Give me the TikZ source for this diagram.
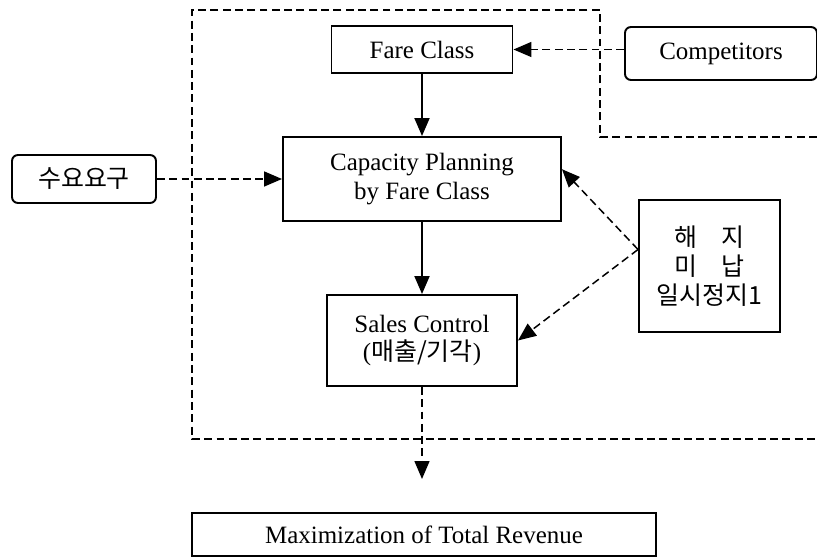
\documentclass[tikz,border=0pt]{standalone}
\usepackage{fontspec}
\setmainfont{Liberation Serif}
\newfontfamily\kr{Noto Sans CJK KR}
\usetikzlibrary{arrows.meta, positioning, calc}

\begin{document}
\begin{tikzpicture}[
    block/.style={
        rectangle, draw, line width=1.1pt, fill=white, align=center,
        inner sep=2pt, font=\fontsize{14.2}{16.5}\selectfont
    },
    source/.style={block, rounded corners=3.4pt},
    flow/.style={-{Triangle[length=3.6mm, width=3mm]}, line width=1.1pt},
    link/.style={flow, line width=0.85pt, dash pattern=on 4.5pt off 2.5pt},
    boundary/.style={line width=0.85pt, dash pattern=on 4.5pt off 2.5pt}
]
\useasboundingbox (0,0) rectangle (16.34,-11.18);

% Boundary of the planning area
\draw[boundary] (16.34,-2.74) -- (12.0,-2.74) -- (12.0,-0.2) -- (3.84,-0.2) -- (3.84,-8.78) -- (16.34,-8.78);

% Planning steps
\node[block, minimum width=3.62cm, minimum height=0.94cm] (fare) at (8.44,-0.99) {Fare Class};
\node[block, minimum width=5.56cm, minimum height=1.68cm] (capacity) at (8.44,-3.58) {Capacity Planning\\by Fare Class};
\node[block, minimum width=3.8cm, minimum height=1.82cm] (sales) at (8.44,-6.81) {Sales Control\\({\kr 매출/기각})};

% Outside influences
\node[source, minimum width=3.84cm, minimum height=1.06cm] (competitors) at (14.42,-1.07) {Competitors};
\node[source, minimum width=2.88cm, minimum height=0.96cm] (demand) at (1.68,-3.58) {\kr 수요요구};
\node[block, minimum width=2.82cm, minimum height=2.64cm] (status) at (14.19,-5.32) {\kr 해\quad 지\\\kr 미\quad 납\\\kr 일시정지1};

% Goal
\node[block, minimum width=9.28cm, minimum height=0.86cm] (revenue) at (8.48,-10.69) {Maximization of Total Revenue};
\coordinate (salesout) at (8.44,-9.58);

% Arrows
\draw[flow] (fare) -- (capacity);
\draw[flow] (capacity) -- (sales);
\draw[link] (competitors.west |- fare) -- (fare);
\draw[link] (demand) -- (capacity);
\draw[link] (status.167) -- (capacity.4);
\draw[link] (status.167) -- (sales.east);
\draw[link] (sales) -- (salesout);

\end{tikzpicture}
\end{document}
